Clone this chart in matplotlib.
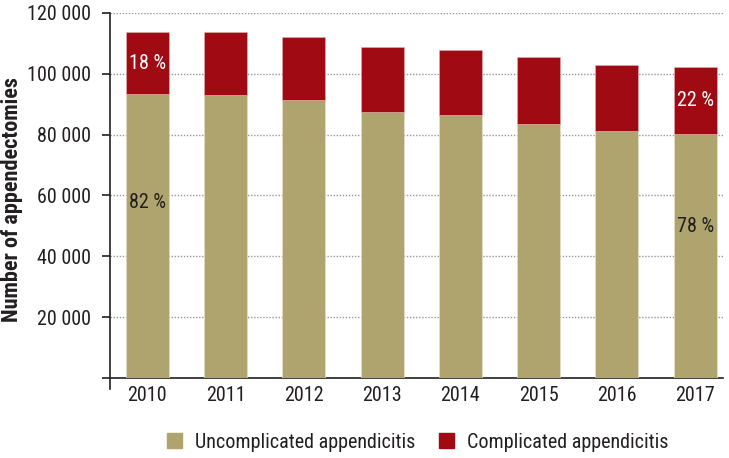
import matplotlib
matplotlib.use("Agg")
import matplotlib.pyplot as plt
from matplotlib.lines import Line2D
from matplotlib.patches import Patch
from matplotlib import font_manager

years = ["2010", "2011", "2012", "2013", "2014", "2015", "2016", "2017"]
uncomplicated = [93300, 92900, 91300, 87500, 86400, 83500, 81100, 80300]
complicated = [20400, 20800, 20700, 21200, 21400, 22000, 21900, 21900]
yticks = [20000, 40000, 60000, 80000, 100000, 120000]
ytick_labels = ["20 000", "40 000", "60 000", "80 000", "100 000", "120 000"]
series_names = ["Uncomplicated appendicitis", "Complicated appendicitis"]
# share labels shown on first and last bar
share_bars = [0, 7]
share_uncomplicated = ["82 %", "78 %"]
share_complicated = ["18 %", "22 %"]

names = {f.name for f in font_manager.fontManager.ttflist}
fam = ["Liberation Sans", "DejaVu Sans"]
for cand in ["Liberation Sans Narrow", "Arial Narrow", "Roboto Condensed", "Open Sans Condensed"]:
    if cand in names:
        fam = [cand, "DejaVu Sans"]
        break
plt.rcParams["font.family"] = fam

TAN = "#B0A46E"
RED = "#A00A12"
TXT = "#231F20"
FS = 14.5

fig = plt.figure(figsize=(7.29, 4.58), dpi=100)
ax = fig.add_axes([110/729, 1-378/458, 613/729, 365/458])

x = list(range(len(years)))
ax.bar(x, uncomplicated, width=0.55, color=TAN, edgecolor="#e8e2cc", linewidth=0.4, zorder=3)
ax.bar(x, complicated, bottom=uncomplicated, width=0.55, color=RED, edgecolor="#e0b0b0", linewidth=0.4, zorder=3)

ax.set_xlim(-0.476, 7.355)
ax.set_ylim(0, 120000)
ax.set_yticks([0] + yticks)
ax.set_yticklabels([""] + ytick_labels)
ax.set_xticks(x)
ax.set_xticklabels(years)
ax.tick_params(axis="y", direction="out", length=6, width=1.2, colors=TXT, labelsize=FS, pad=8)
ax.tick_params(axis="x", length=0, labelsize=FS, colors=TXT, pad=6)

for s in ["top", "right"]:
    ax.spines[s].set_visible(False)
for s in ["left", "bottom"]:
    ax.spines[s].set_linewidth(1.2)
    ax.spines[s].set_color(TXT)
ax.add_line(Line2D([0, 0], [-0.03, 0], transform=ax.transAxes, color=TXT, lw=1.2, clip_on=False))

for v in yticks:
    ax.axhline(v, color="#999999", lw=1.0, ls=(0, (1, 1.2)), zorder=1)

ax.set_ylabel("Number of appendectomies", fontsize=16, fontweight="bold", color=TXT)
ax.yaxis.set_label_coords((23 - 110) / 613, (378 - 200) / 365)

for i, lu, lc in zip(share_bars, share_uncomplicated, share_complicated):
    ax.text(i, uncomplicated[i] + complicated[i] / 2, lc, color="white", ha="center", va="center", fontsize=FS, zorder=4)
    ax.text(i, uncomplicated[i] * 0.62, lu, color=TXT, ha="center", va="center", fontsize=FS, zorder=4)

handles = [Patch(color=TAN), Patch(color=RED)]
fig.legend(handles, series_names, loc="center", bbox_to_anchor=(417.5/729, 1-442/458), ncol=2, frameon=False,
           fontsize=FS, handlelength=0.75, handleheight=0.8, columnspacing=1.15, handletextpad=0.65,
           labelcolor=TXT, borderpad=0, borderaxespad=0)

fig.savefig("out.png", dpi=100)
